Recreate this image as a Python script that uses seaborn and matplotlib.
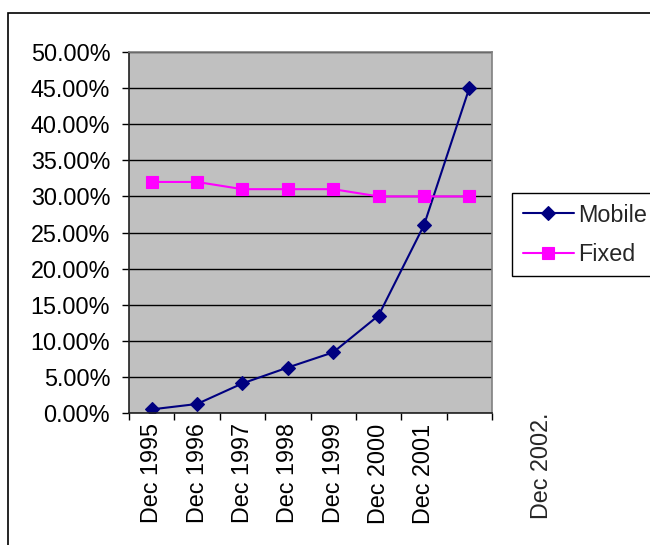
import matplotlib
matplotlib.use("Agg")
import matplotlib.pyplot as plt
import matplotlib.transforms as mtransforms
from matplotlib.patches import Rectangle
from matplotlib.ticker import PercentFormatter, FixedLocator
import seaborn as sns
import pandas as pd

# Share of connections by period (%)
period_labels = ["Dec 1995", "Dec 1996", "Dec 1997", "Dec 1998",
                 "Dec 1999", "Dec 2000", "Dec 2001", "Dec 2002."]
mobile = [0.5, 1.25, 4.1, 6.3, 8.4, 13.5, 26.0, 45.0]
fixed = [32.0, 32.0, 31.0, 31.0, 31.0, 30.0, 30.0, 30.0]
y_ticks = [0, 5, 10, 15, 20, 25, 30, 35, 40, 45, 50]

FS = 16.8

sns.set_theme(style="white")
plt.rcParams["font.family"] = ["Liberation Sans", "DejaVu Sans"]

fig = plt.figure(figsize=(6.5, 5.45), dpi=100)
W, H = 650, 545
ax = fig.add_axes([129 / W, (H - 413) / H, 363 / W, 361 / H])
ax.set_facecolor("#C0C0C0")

pos = list(range(len(period_labels)))
df = pd.DataFrame({"pos": pos, "Mobile": mobile, "Fixed": fixed})

sns.lineplot(data=df, x="pos", y="Mobile", ax=ax, color="#000080",
             marker="D", markersize=7, markeredgecolor="#000080",
             markeredgewidth=0.8, linewidth=1.5, label="Mobile")
sns.lineplot(data=df, x="pos", y="Fixed", ax=ax, color="#FF00FF",
             marker="s", markersize=8.5, markeredgecolor="#FF00FF",
             markeredgewidth=0.8, linewidth=1.5, label="Fixed")

ax.set_xlim(-0.5, len(pos) - 0.5)
ax.set_ylim(0, 50)
ax.set_xlabel("")
ax.set_ylabel("")

# horizontal gridlines
ax.yaxis.set_major_locator(FixedLocator(y_ticks))
ax.yaxis.set_major_formatter(PercentFormatter(xmax=100, decimals=2))
ax.grid(axis="y", color="#000000", linewidth=1.0)
ax.grid(axis="x", visible=False)
ax.set_axisbelow(True)
ax.tick_params(axis="y", which="major", left=True, length=5, width=1,
               color="#000000", pad=8.5, labelsize=FS, labelcolor="black")

# category labels at centres, tick marks on the boundaries
ax.set_xticks(pos[:-1])
ax.set_xticklabels(period_labels[:-1], rotation=90)
ax.xaxis.set_minor_locator(FixedLocator([p - 0.5 for p in pos] + [pos[-1] + 0.5]))
ax.tick_params(axis="x", which="major", bottom=True, length=0, pad=7.5,
               labelsize=FS, labelcolor="black")
ax.tick_params(axis="x", which="minor", bottom=True, length=5, width=1,
               color="#000000")

# last category label sits off to the right of the plot
offset = mtransforms.ScaledTranslation(0.72, 0.0, fig.dpi_scale_trans)
ax.text(pos[-1], 0.0, period_labels[-1], rotation=90, fontsize=FS,
        ha="center", va="top",
        transform=mtransforms.blended_transform_factory(ax.transData, ax.transAxes) + offset,
        clip_on=False)

for side in ["top", "right"]:
    ax.spines[side].set_color("#808080")
    ax.spines[side].set_linewidth(1.2)
for side in ["left", "bottom"]:
    ax.spines[side].set_color("#202020")
    ax.spines[side].set_linewidth(1.2)

leg = ax.legend(loc="upper left", bbox_to_anchor=(512 / W, 1 - 193 / H),
                bbox_transform=fig.transFigure, fontsize=FS, frameon=True,
                fancybox=False, shadow=False, borderpad=0.45, labelspacing=0.7,
                handlelength=2.2, handletextpad=0.2, borderaxespad=0)
leg.get_frame().set_edgecolor("#000000")
leg.get_frame().set_linewidth(1.0)
leg.get_frame().set_facecolor("white")
leg.get_frame().set_alpha(1)

# outer chart border
fig.patches.append(Rectangle((8 / W, -0.1), 1.2, 1 - 13 / H + 0.1,
                             transform=fig.transFigure, fill=False,
                             edgecolor="#000000", linewidth=1.2, zorder=0))

fig.savefig("out.png", dpi=100, facecolor="white")
